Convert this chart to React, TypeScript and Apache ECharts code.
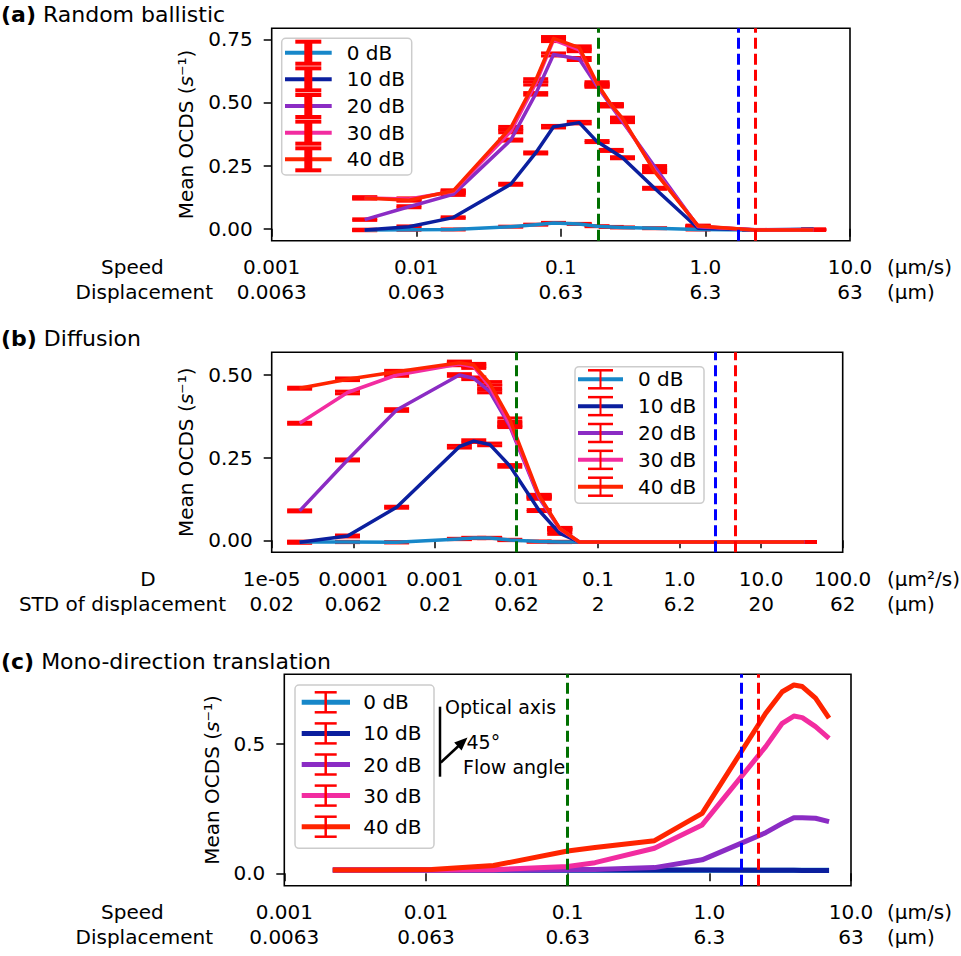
import React, { useEffect, useRef } from "react";
import * as echarts from "echarts";

const FONT = "DejaVu Sans";
const SERIES_NAMES = ["0 dB", "10 dB", "20 dB", "30 dB", "40 dB"];
const SERIES_COLORS = ["#1787c9", "#0b1f9e", "#8b2cc4", "#f22ca0", "#ff2400"];
const ERR_COLOR = "#ff0000";

// ---------- Panel (a) Random ballistic ----------
const speedA = [0.0044, 0.0089, 0.018, 0.045, 0.067, 0.089, 0.134, 0.178, 0.223, 0.267, 0.445, 0.89, 2.2, 5.6];
const ocdsA0 = [-0.005, -0.004, -0.003, 0.008, 0.016, 0.023, 0.019, 0.01, 0.007, 0.005, 0.002, -0.003, -0.005, -0.003];
const ocdsA10 = [-0.005, 0.008, 0.044, 0.176, 0.3, 0.404, 0.42, 0.345, 0.31, 0.281, 0.16, 0.002, -0.004, -0.002];
const ocdsA20 = [0.036, 0.087, 0.136, 0.351, 0.534, 0.69, 0.672, 0.565, 0.486, 0.424, 0.246, 0.008, -0.004, -0.004];
const ocdsA30 = [0.122, 0.118, 0.147, 0.385, 0.575, 0.748, 0.708, 0.57, 0.49, 0.43, 0.232, 0.01, -0.005, -0.005];
const ocdsA40 = [0.122, 0.113, 0.15, 0.4, 0.588, 0.754, 0.717, 0.576, 0.49, 0.437, 0.226, 0.011, -0.005, -0.005];
const errA0 = [0.002, 0.002, 0.002, 0.002, 0.002, 0.002, 0.002, 0.002, 0.002, 0.002, 0.002, 0.002, 0.001, 0.001];
const errA10 = [0.003, 0.003, 0.003, 0.004, 0.004, 0.005, 0.005, 0.004, 0.004, 0.004, 0.004, 0.003, 0.001, 0.001];
const errA20 = [0.003, 0.004, 0.004, 0.004, 0.005, 0.006, 0.006, 0.005, 0.004, 0.004, 0.004, 0.003, 0.001, 0.001];
const errA30 = [0.004, 0.004, 0.004, 0.005, 0.006, 0.007, 0.007, 0.006, 0.005, 0.005, 0.004, 0.003, 0.001, 0.001];
const errA40 = [0.004, 0.004, 0.004, 0.005, 0.006, 0.007, 0.007, 0.006, 0.005, 0.005, 0.004, 0.003, 0.001, 0.001];
const vlinesA = [0.18, 1.68, 2.22];
const speedTicksA = ["0.001", "0.01", "0.1", "1.0", "10.0"];
const dispTicksA = ["0.0063", "0.063", "0.63", "6.3", "63"];
const xTickValsA = [0.001, 0.01, 0.1, 1, 10];
const yTicksA = [0, 0.25, 0.5, 0.75];

// ---------- Panel (b) Diffusion ----------
const diffB = [2.2e-5, 8.5e-5, 3.4e-4, 2.0e-3, 3.0e-3, 4.7e-3, 8.3e-3, 0.019, 0.034, 0.059, 0.134, 0.54, 2.15, 8.6, 34];
const ocdsB0 = [-0.005, -0.005, -0.006, 0.004, 0.007, 0.007, 0.001, -0.004, -0.005, -0.005, -0.005, -0.005, -0.005, -0.005, -0.005];
const ocdsB10 = [-0.006, 0.013, 0.1, 0.283, 0.3, 0.29, 0.225, 0.09, 0.021, -0.005, -0.005, -0.005, -0.005, -0.005, -0.005];
const ocdsB20 = [0.089, 0.243, 0.394, 0.5, 0.49, 0.45, 0.345, 0.128, 0.034, -0.005, -0.005, -0.005, -0.005, -0.005, -0.005];
const ocdsB30 = [0.354, 0.447, 0.5, 0.533, 0.525, 0.465, 0.35, 0.132, 0.035, -0.005, -0.005, -0.005, -0.005, -0.005, -0.005];
const ocdsB40 = [0.46, 0.487, 0.51, 0.537, 0.53, 0.475, 0.365, 0.135, 0.036, -0.005, -0.005, -0.005, -0.005, -0.005, -0.005];
const errB0 = [0.002, 0.002, 0.002, 0.002, 0.002, 0.002, 0.002, 0.002, 0.002, 0.001, 0.001, 0.001, 0.001, 0.001, 0.001];
const errB10 = [0.003, 0.003, 0.003, 0.004, 0.004, 0.004, 0.004, 0.003, 0.003, 0.001, 0.001, 0.001, 0.001, 0.001, 0.001];
const errB20 = [0.003, 0.003, 0.004, 0.004, 0.004, 0.004, 0.004, 0.004, 0.003, 0.001, 0.001, 0.001, 0.001, 0.001, 0.001];
const errB30 = [0.003, 0.004, 0.004, 0.005, 0.005, 0.005, 0.005, 0.004, 0.003, 0.001, 0.001, 0.001, 0.001, 0.001, 0.001];
const errB40 = [0.003, 0.004, 0.004, 0.005, 0.005, 0.005, 0.005, 0.004, 0.003, 0.001, 0.001, 0.001, 0.001, 0.001, 0.001];
const vlinesB = [0.0108, 2.75, 4.8];
const dTicksB = ["1e-05", "0.0001", "0.001", "0.01", "0.1", "1.0", "10.0", "100.0"];
const stdTicksB = ["0.02", "0.062", "0.2", "0.62", "2", "6.2", "20", "62"];
const xTickValsB = [1e-5, 1e-4, 1e-3, 1e-2, 0.1, 1, 10, 100];
const yTicksB = [0, 0.25, 0.5];

// ---------- Panel (c) Mono-direction translation ----------
const speedC = [0.0022, 0.0045, 0.011, 0.03, 0.1, 0.156, 0.41, 0.89, 2.5, 3.27, 3.95, 4.53, 5.62, 7.0];
const ocdsC0 = [0.012, 0.012, 0.012, 0.012, 0.012, 0.012, 0.012, 0.012, 0.012, 0.012, 0.012, 0.012, 0.012, 0.012];
const ocdsC10 = [0.013, 0.013, 0.013, 0.013, 0.013, 0.013, 0.013, 0.013, 0.012, 0.012, 0.012, 0.011, 0.011, 0.011];
const ocdsC20 = [0.013, 0.013, 0.013, 0.013, 0.014, 0.015, 0.022, 0.052, 0.157, 0.193, 0.215, 0.215, 0.213, 0.2];
const ocdsC30 = [0.013, 0.013, 0.013, 0.014, 0.026, 0.041, 0.097, 0.187, 0.49, 0.58, 0.608, 0.602, 0.567, 0.522];
const ocdsC40 = [0.013, 0.013, 0.015, 0.03, 0.086, 0.1, 0.126, 0.232, 0.619, 0.702, 0.728, 0.722, 0.677, 0.6];
const vlinesC = [0.103, 1.68, 2.21];
const yTicksC = [0, 0.5];

const VLINE_COLORS = ["#007000", "#0000ff", "#ff0000"];

type Panel = {
  title: string;
  grid: { left: number; top: number; width: number; height: number };
  xmin: number; xmax: number; ymin: number; ymax: number;
  xTicks: number[]; row1: string[]; row2: string[];
  yTicks: number[]; yDigits: number;
  xs: number[]; ys: number[][]; errs: number[][] | null;
  vlines: number[]; lineWidth: number; nameGap: number;
};

const panels: Panel[] = [
  {
    title: "{b|(a)} Random ballistic",
    grid: { left: 271.7, top: 28.3, width: 578.3, height: 212.4 },
    xmin: 0.001, xmax: 10, ymin: -0.0475, ymax: 0.7936,
    xTicks: xTickValsA, row1: speedTicksA, row2: dispTicksA,
    yTicks: yTicksA, yDigits: 2,
    xs: speedA, ys: [ocdsA0, ocdsA10, ocdsA20, ocdsA30, ocdsA40],
    errs: [errA0, errA10, errA20, errA30, errA40],
    vlines: vlinesA, lineWidth: 3.5, nameGap: 76,
  },
  {
    title: "{b|(b)} Diffusion",
    grid: { left: 271.7, top: 352.3, width: 571, height: 200 },
    xmin: 1e-5, xmax: 100, ymin: -0.0363, ymax: 0.5686,
    xTicks: xTickValsB, row1: dTicksB, row2: stdTicksB,
    yTicks: yTicksB, yDigits: 2,
    xs: diffB, ys: [ocdsB0, ocdsB10, ocdsB20, ocdsB30, ocdsB40],
    errs: [errB0, errB10, errB20, errB30, errB40],
    vlines: vlinesB, lineWidth: 3.5, nameGap: 76,
  },
  {
    title: "{b|(c)} Mono-direction translation",
    grid: { left: 284.3, top: 674.3, width: 566.7, height: 211.4 },
    xmin: 0.001, xmax: 10, ymin: -0.048, ymax: 0.7695,
    xTicks: xTickValsA, row1: speedTicksA, row2: dispTicksA,
    yTicks: yTicksC, yDigits: 1,
    xs: speedC, ys: [ocdsC0, ocdsC10, ocdsC20, ocdsC30, ocdsC40],
    errs: null,
    vlines: vlinesC, lineWidth: 5, nameGap: 62,
  },
];

type LegendCfg = {
  x: number; y: number; w: number; h: number;
  rowY0: number; rowStep: number;
  hx1: number; hx2: number; errX: number; errHalf: number; capHalf: number;
  errLW: number; capLW: number; lineW: number; textX: number;
};

const legendCfgs: LegendCfg[] = [
  { x: 281.7, y: 38.3, w: 130, h: 136.7, rowY0: 52.7, rowStep: 26.65, hx1: 285, hx2: 331.7, errX: 308.3, errHalf: 11, capHalf: 13, errLW: 8, capLW: 4, lineW: 4, textX: 346.7 },
  { x: 575, y: 366.7, w: 129, h: 136.6, rowY0: 379.3, rowStep: 26.85, hx1: 578, hx2: 623, errX: 600.5, errHalf: 9, capHalf: 12.5, errLW: 2, capLW: 2.5, lineW: 4, textX: 638 },
  { x: 295, y: 685, w: 139, h: 163.3, rowY0: 702.3, rowStep: 31.1, hx1: 301.7, hx2: 350, errX: 325.7, errHalf: 10, capHalf: 11, errLW: 2.5, capLW: 2.5, lineW: 5, textX: 363.3 },
];

function legendGraphics(c: LegendCfg): any[] {
  const els: any[] = [];
  els.push({
    type: "rect", z: 100,
    shape: { x: c.x, y: c.y, width: c.w, height: c.h, r: 4 },
    style: { fill: "rgba(255,255,255,0.85)", stroke: "#cccccc", lineWidth: 1.5 },
  });
  SERIES_NAMES.forEach((name, i) => {
    const ry = c.rowY0 + i * c.rowStep;
    els.push({ type: "line", z: 101, shape: { x1: c.hx1, y1: ry, x2: c.hx2, y2: ry }, style: { stroke: SERIES_COLORS[i], lineWidth: c.lineW } });
    els.push({ type: "line", z: 102, shape: { x1: c.errX, y1: ry - c.errHalf, x2: c.errX, y2: ry + c.errHalf }, style: { stroke: ERR_COLOR, lineWidth: c.errLW } });
    els.push({ type: "line", z: 102, shape: { x1: c.errX - c.capHalf, y1: ry - c.errHalf, x2: c.errX + c.capHalf, y2: ry - c.errHalf }, style: { stroke: ERR_COLOR, lineWidth: c.capLW } });
    els.push({ type: "line", z: 102, shape: { x1: c.errX - c.capHalf, y1: ry + c.errHalf, x2: c.errX + c.capHalf, y2: ry + c.errHalf }, style: { stroke: ERR_COLOR, lineWidth: c.capLW } });
    els.push({ type: "text", z: 103, x: c.textX, y: ry, style: { text: name, fontSize: 20, fontFamily: FONT, fill: "#000", align: "left", verticalAlign: "middle" } });
  });
  return els;
}

function txt(text: string, x: number, y: number, align: string, size = 20, rich?: any) {
  return {
    type: "text", z: 100, x, y,
    style: { text, fontSize: size, fontFamily: FONT, fill: "#000", align, verticalAlign: "middle", rich },
  };
}

function errSeries(gi: number, xs: number[], ys: number[], errs: number[]) {
  return {
    type: "custom", xAxisIndex: gi, yAxisIndex: gi, z: 2, silent: true,
    dimensions: ["x", "lo", "hi"],
    encode: { x: 0, y: [1, 2] },
    data: xs.map((x, i) => [x, ys[i] - errs[i], ys[i] + errs[i]]),
    renderItem: (params: any, api: any) => {
      const lo = api.coord([api.value(0), api.value(1)]);
      const hi = api.coord([api.value(0), api.value(2)]);
      const hw = 12.5;
      return {
        type: "group",
        children: [
          { type: "line", shape: { x1: lo[0], y1: lo[1], x2: hi[0], y2: hi[1] }, style: { stroke: ERR_COLOR, lineWidth: 1.5 } },
          { type: "line", shape: { x1: lo[0] - hw, y1: lo[1], x2: lo[0] + hw, y2: lo[1] }, style: { stroke: ERR_COLOR, lineWidth: 3 } },
          { type: "line", shape: { x1: hi[0] - hw, y1: hi[1], x2: hi[0] + hw, y2: hi[1] }, style: { stroke: ERR_COLOR, lineWidth: 3 } },
        ],
      };
    },
  };
}

function buildOption(): any {
  const grid = panels.map((p) => ({ ...p.grid, show: true, borderColor: "#000", borderWidth: 1.6, backgroundColor: "transparent", containLabel: false }));
  const xAxis = panels.map((p, gi) => {
    const minExp = Math.round(Math.log10(p.xmin));
    return {
      type: "log", logBase: 10, gridIndex: gi, min: p.xmin, max: p.xmax,
      axisLine: { show: false },
      axisTick: { show: true, inside: false, length: 8, lineStyle: { color: "#000", width: 1.5 }, customValues: p.xTicks },
      minorTick: { show: false },
      splitLine: { show: false },
      axisLabel: {
        customValues: p.xTicks,
        fontSize: 20, fontFamily: FONT, color: "#000", lineHeight: 25, margin: 14,
        formatter: (v: number) => {
          const k = Math.round(Math.log10(v)) - minExp;
          return `${p.row1[k]}\n${p.row2[k]}`;
        },
      },
    };
  });
  const yAxis = panels.map((p, gi) => ({
    type: "value", gridIndex: gi, min: p.ymin, max: p.ymax,
    axisLine: { show: false },
    axisTick: { show: true, inside: false, length: 8, lineStyle: { color: "#000", width: 1.5 }, customValues: p.yTicks },
    splitLine: { show: false },
    axisLabel: {
      customValues: p.yTicks,
      fontSize: 20, fontFamily: FONT, color: "#000", margin: 19,
      formatter: (v: number) => v.toFixed(p.yDigits),
    },
    name: "Mean OCDS ({i|s}⁻¹)",
    nameLocation: "middle", nameRotate: 90, nameGap: p.nameGap,
    nameTextStyle: { fontSize: 20, fontFamily: FONT, color: "#000", rich: { i: { fontStyle: "italic", fontSize: 20, fontFamily: FONT, color: "#000" } } },
  }));

  const series: any[] = [];
  panels.forEach((p, gi) => {
    p.ys.forEach((ys, si) => {
      if (p.errs) series.push(errSeries(gi, p.xs, ys, p.errs[si]));
    });
    p.ys.forEach((ys, si) => {
      const s: any = {
        type: "line", name: SERIES_NAMES[si], xAxisIndex: gi, yAxisIndex: gi, z: 3,
        data: p.xs.map((x, i) => [x, ys[i]]),
        symbol: "none", showSymbol: false, silent: true,
        lineStyle: { color: SERIES_COLORS[si], width: p.lineWidth, join: "round", cap: "butt" },
        itemStyle: { color: SERIES_COLORS[si] },
      };
      if (si === SERIES_NAMES.length - 1) {
        s.markLine = {
          silent: true, symbol: ["none", "none"], label: { show: false }, animation: false,
          lineStyle: { type: [11, 5], width: 3 },
          data: p.vlines.map((v, k) => ({ xAxis: v, lineStyle: { color: VLINE_COLORS[k], type: [11, 5], width: 3 } })),
        };
      }
      series.push(s);
    });
  });

  const graphic: any[] = [];
  const titleY = [14.5, 338.8, 661];
  panels.forEach((p, gi) => {
    graphic.push(txt(p.title, 1, titleY[gi], "left", 22, { b: { fontWeight: "bold", fontSize: 22, fontFamily: FONT, fill: "#000" } }));
    legendGraphics(legendCfgs[gi]).forEach((e) => graphic.push(e));
    const bottom = p.grid.top + p.grid.height;
    const r1 = bottom + 26.5;
    const r2 = bottom + 51.5;
    if (gi === 1) {
      graphic.push(txt("D", 148, r1, "center"));
      graphic.push(txt("STD of displacement", 226, r2, "right"));
      graphic.push(txt("(µm²/s)", 887, r1, "left"));
      graphic.push(txt("(µm)", 887, r2, "left"));
    } else {
      graphic.push(txt("Speed", 101, r1, "left"));
      graphic.push(txt("Displacement", 213, r2, "right"));
      graphic.push(txt("(µm/s)", 887, r1, "left"));
      graphic.push(txt("(µm)", 887, r2, "left"));
    }
  });

  // Annotation in panel (c)
  graphic.push({ type: "line", z: 100, shape: { x1: 440, y1: 706.7, x2: 440, y2: 776.7 }, style: { stroke: "#000", lineWidth: 2.5 } });
  graphic.push({ type: "line", z: 100, shape: { x1: 440.8, y1: 762.5, x2: 458.5, y2: 746 }, style: { stroke: "#000", lineWidth: 2.5 } });
  graphic.push({ type: "polygon", z: 100, shape: { points: [[467.5, 737.5], [461.6, 750.6], [454.2, 742.6]] }, style: { fill: "#000" } });
  graphic.push(txt("Optical axis", 445, 706.7, "left", 19));
  graphic.push(txt("45°", 466.5, 741.7, "left", 19));
  graphic.push(txt("Flow angle", 463, 766.7, "left", 19));

  return {
    animation: false,
    backgroundColor: "#ffffff",
    textStyle: { fontFamily: FONT },
    grid, xAxis, yAxis, series, graphic,
  };
}

export default function App() {
  const ref = useRef<HTMLDivElement>(null);
  useEffect(() => {
    if (!ref.current) return;
    const chart = echarts.init(ref.current, undefined, { renderer: "svg" });
    chart.setOption(buildOption());
    return () => chart.dispose();
  }, []);
  return (
    <div
      ref={ref}
      style={{ position: "fixed", left: 0, top: 0, width: 961, height: 956, background: "#fff" }}
    />
  );
}
